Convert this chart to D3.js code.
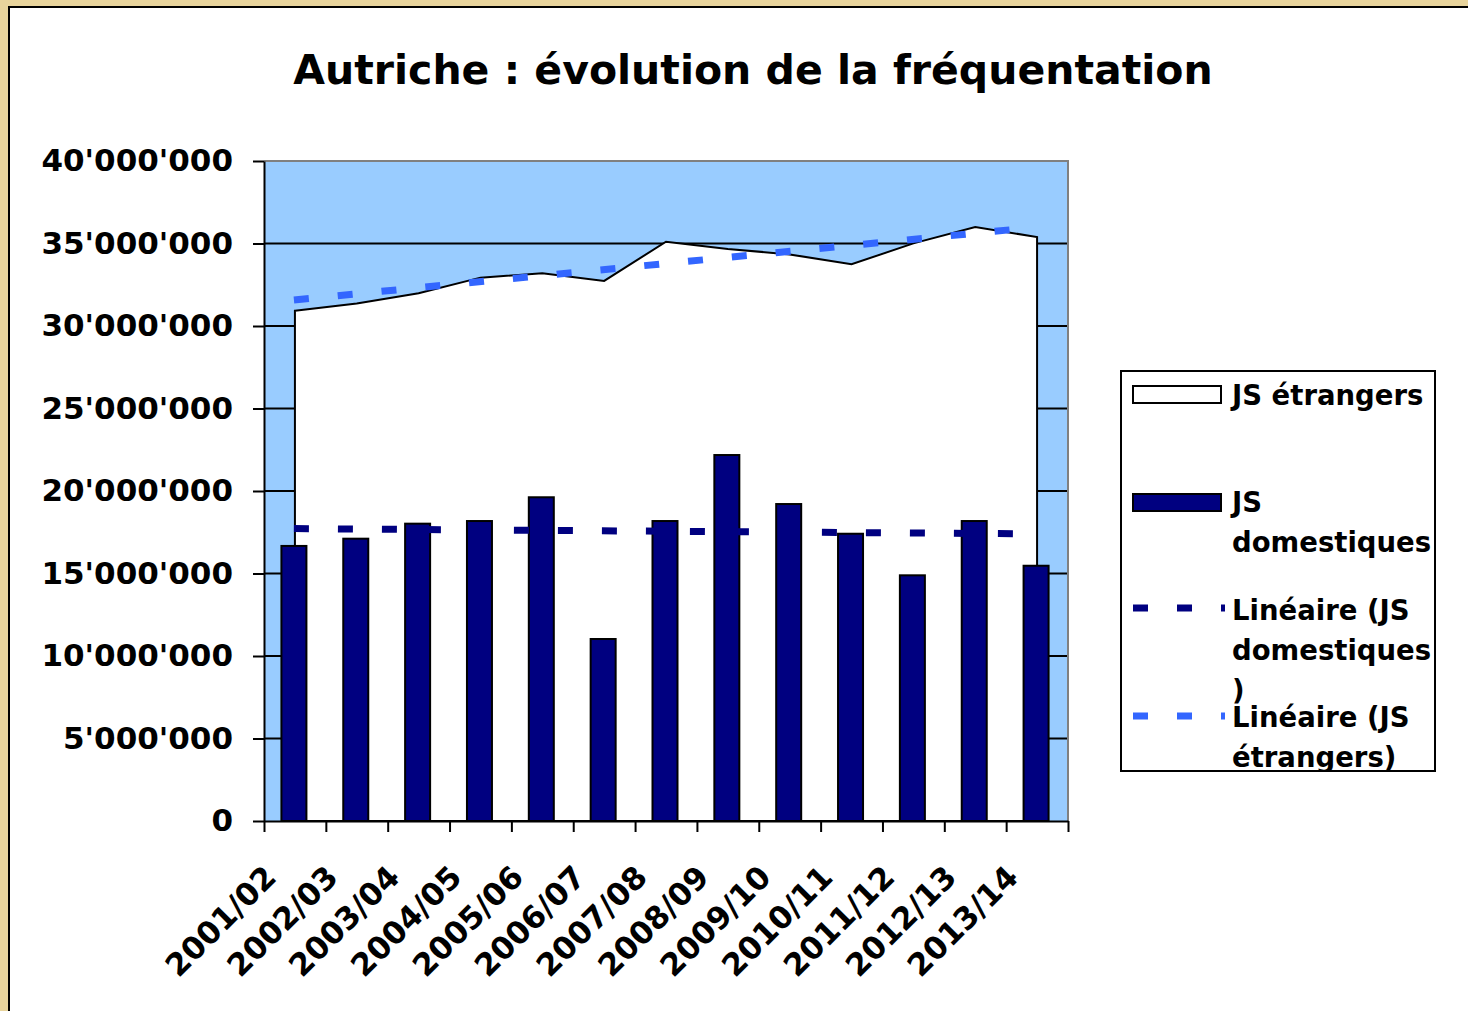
<!DOCTYPE html>
<html>
<head>
<meta charset="utf-8">
<script src="https://cdn.jsdelivr.net/npm/d3@7"></script>
<style>
  html, body { margin: 0; padding: 0; background: #E8D49C; }
  svg { display: block; }
  text { font-family: "DejaVu Sans", Verdana, sans-serif; font-weight: bold; }
</style>
</head>
<body>
<svg id="chart" width="1468" height="1011"></svg>
<script>
// ---------- data ----------
const title = "Autriche : évolution de la fréquentation";
const categories = ["2001/02", "2002/03", "2003/04", "2004/05", "2005/06", "2006/07", "2007/08",
                    "2008/09", "2009/10", "2010/11", "2011/12", "2012/13", "2013/14"];
const etrangers = [30930000, 31360000, 31980000, 32930000, 33190000, 32730000, 35110000,
                   34670000, 34340000, 33740000, 35010000, 36000000, 35390000];
const domestiques = [16670000, 17110000, 18020000, 18180000, 19620000, 11030000, 18180000,
                     22180000, 19210000, 17410000, 14890000, 18180000, 15470000];
// linear trendlines, values read at the first and last category
const trendDomestiques = [17720000, 17400000];
const trendEtrangers = [31580000, 35990000];
const yTicks = [0, 5000000, 10000000, 15000000, 20000000, 25000000, 30000000, 35000000, 40000000];
const yTickLabels = ["0", "5'000'000", "10'000'000", "15'000'000", "20'000'000",
                     "25'000'000", "30'000'000", "35'000'000", "40'000'000"];
const legendLabels = [["JS étrangers"], ["JS", "domestiques"],
                      ["Linéaire (JS", "domestiques", ")"], ["Linéaire (JS", "étrangers)"]];

// ---------- layout ----------
const svg = d3.select("#chart");
const L = 264, R = 1068, T = 161, B = 821;
const navy = "#000080", lightBlue = "#3366FF", plotBg = "#99CCFF";

// outer chart frame
svg.append("rect").attr("x", 9).attr("y", 7).attr("width", 1480).attr("height", 1020)
  .attr("fill", "#fff").attr("stroke", "#000").attr("stroke-width", 2);

// title
svg.append("text").attr("x", 753).attr("y", 84).attr("text-anchor", "middle")
  .attr("font-size", 41).attr("fill", "#000").text(title);

const y = d3.scaleLinear().domain([0, 40000000]).range([B, T]);
const xb = d3.scaleBand().domain(categories).range([L, R]).paddingInner(0).paddingOuter(0);
const cx = c => xb(c) + xb.bandwidth() / 2;
const xl = d3.scaleLinear().domain([0, categories.length]).range([L, R]);

// plot background
svg.append("rect").attr("x", L).attr("y", T).attr("width", R - L).attr("height", B - T).attr("fill", plotBg);

// gridlines
svg.append("g").selectAll("line").data(yTicks.filter(v => v > 0 && v < 40000000)).join("line")
  .attr("x1", L).attr("x2", R).attr("y1", d => y(d)).attr("y2", d => y(d))
  .attr("stroke", "#000").attr("stroke-width", 2);

// plot border (top & right)
svg.append("path").attr("d", `M${L},${T}H${R}V${B}`).attr("fill", "none")
  .attr("stroke", "#808080").attr("stroke-width", 2);

// area (JS étrangers)
const area = d3.area().x((d, i) => cx(categories[i])).y0(y(0)).y1(d => y(d));
svg.append("path").datum(etrangers).attr("d", area)
  .attr("fill", "#fff").attr("stroke", "#000").attr("stroke-width", 2).attr("stroke-linejoin", "miter");

// bars (JS domestiques)
const barW = 25;
svg.append("g").selectAll("rect").data(domestiques).join("rect")
  .attr("x", (d, i) => cx(categories[i]) - barW / 2 - 1)
  .attr("y", d => y(d))
  .attr("width", barW).attr("height", d => y(0) - y(d))
  .attr("fill", navy).attr("stroke", "#000").attr("stroke-width", 2);

// trendlines
const first = categories[0], last = categories[categories.length - 1];
function trend(vals, color) {
  svg.append("line")
    .attr("x1", cx(first) - 1).attr("y1", y(vals[0]))
    .attr("x2", cx(last)).attr("y2", y(vals[1]))
    .attr("stroke", color).attr("stroke-width", 7).attr("stroke-dasharray", "15,29");
}
trend(trendDomestiques, navy);
trend(trendEtrangers, lightBlue);

// axes
const yAxis = d3.axisLeft(y).tickValues(yTicks).tickFormat((d, i) => yTickLabels[i])
  .tickSize(11).tickSizeOuter(0).tickPadding(20);
const gy = svg.append("g").attr("transform", `translate(${L},0)`).call(yAxis);
gy.selectAll("path, line").attr("stroke", "#000").attr("stroke-width", 2);
gy.selectAll("text").attr("font-size", 31).attr("fill", "#000")
  .attr("font-family", "DejaVu Sans, Verdana, sans-serif").attr("font-weight", "bold");

const xAxis = d3.axisBottom(xl).tickValues(d3.range(categories.length + 1)).tickFormat("")
  .tickSize(11).tickSizeOuter(0);
const gx = svg.append("g").attr("transform", `translate(0,${B})`).call(xAxis);
gx.selectAll("path, line").attr("stroke", "#000").attr("stroke-width", 2);

svg.append("g").selectAll("text").data(categories).join("text")
  .attr("transform", d => `translate(${cx(d) - 17},${B + 58}) rotate(-45)`)
  .attr("text-anchor", "end").attr("font-size", 31).attr("fill", "#000").text(d => d);

// legend
const lg = svg.append("g");
const LX = 1121, LY = 371, LW = 314, LH = 400;
svg.append("defs").append("clipPath").attr("id", "legclip").append("rect")
  .attr("x", LX + 1).attr("y", LY + 1).attr("width", LW - 2).attr("height", LH - 2);
lg.append("rect").attr("x", LX).attr("y", LY).attr("width", LW).attr("height", LH)
  .attr("fill", "#fff").attr("stroke", "#000").attr("stroke-width", 2);
lg.append("rect").attr("x", 1133).attr("y", 386).attr("width", 88).attr("height", 17)
  .attr("fill", "#fff").attr("stroke", "#000").attr("stroke-width", 2);
lg.append("rect").attr("x", 1133).attr("y", 494).attr("width", 88).attr("height", 17)
  .attr("fill", navy).attr("stroke", "#000").attr("stroke-width", 2);
lg.append("line").attr("x1", 1133).attr("x2", 1225).attr("y1", 608).attr("y2", 608)
  .attr("stroke", navy).attr("stroke-width", 7).attr("stroke-dasharray", "15,29");
lg.append("line").attr("x1", 1133).attr("x2", 1225).attr("y1", 716).attr("y2", 716)
  .attr("stroke", lightBlue).attr("stroke-width", 7).attr("stroke-dasharray", "15,29");
const baselines = [405, 512, 620, 727];
const lt = lg.append("g").attr("clip-path", "url(#legclip)");
legendLabels.forEach((lines, i) => {
  lines.forEach((s, j) => {
    lt.append("text").attr("x", 1232).attr("y", baselines[i] + j * 40)
      .attr("font-size", 27.5).attr("fill", "#000").text(s);
  });
});
</script>
</body>
</html>
